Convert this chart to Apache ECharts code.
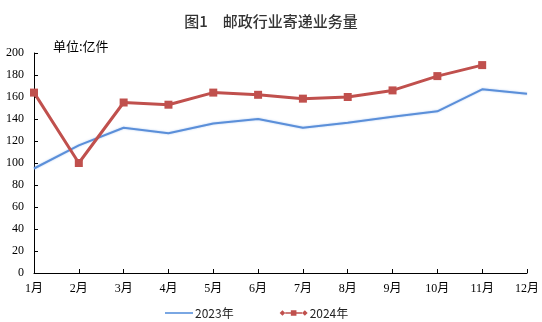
<!DOCTYPE html>
<html><head><meta charset="utf-8">
<script src="https://cdn.jsdelivr.net/npm/echarts@6/dist/echarts.min.js"></script>
<style>html,body{margin:0;padding:0;background:#fff;overflow:hidden}#c{width:542px;height:322px}</style>
</head><body><div id="c"></div>
<script>
const months = ['1月','2月','3月','4月','5月','6月','7月','8月','9月','10月','11月','12月'];
const s2023 = [95, 116, 132, 127, 136, 140, 132, 136.5, 142, 147, 167, 163];
const s2024 = [164, 100, 155, 153, 164, 162, 158.5, 160, 166, 179, 189, null];
const yTicks = {min: 0, max: 200, interval: 20};

const chart = echarts.init(document.getElementById('c'));
const serif = '"Liberation Serif", "Noto Sans CJK SC", serif';
chart.setOption({
  animation: false,
  title: {
    text: '图1　邮政行业寄递业务量', left: 'center', top: 9,
    textStyle: {fontSize: 15, fontWeight: 500, color: '#333', fontFamily: '"Noto Sans CJK SC", sans-serif'}
  },
  graphic: [{
    type: 'text', left: 53, top: 40,
    style: {text: '单位:亿件', fill: '#000', font: '13px "Noto Sans CJK SC", sans-serif'}
  }],
  legend: {
    left: 160, top: 302, itemGap: 46, itemWidth: 28, itemHeight: 8,
    textStyle: {fontSize: 12, color: '#222', fontFamily: '"Noto Sans CJK SC", sans-serif', padding: [0,0,0,-3]},
    data: [
      {name: '2023年', icon: 'path://M0 0L0.01 0Z M0 3L30 3L30 5L0 5Z M30 8L29.99 8Z', itemStyle: {color: '#7aa7e3'}},
      {name: '2024年', icon: 'path://M0 4L3 1L6 4L3 7Z M6 3.2L12 3.2L12 4.8L6 4.8Z M12 1L18 1L18 7L12 7Z M18 3.2L24 3.2L24 4.8L18 4.8Z M24 4L27 1L30 4L27 7Z', itemStyle: {color: '#C0504D'}}
    ]
  },
  grid: {left: 34, right: 11, top: 53, bottom: 49},
  xAxis: {
    type: 'category', data: months, boundaryGap: false,
    axisLine: {lineStyle: {color: '#000', width: 1}},
    axisTick: {inside: true, length: 4, lineStyle: {color: '#000'}},
    axisLabel: {color: '#000', fontSize: 12, margin: 10, fontFamily: serif}
  },
  yAxis: {
    type: 'value', min: yTicks.min, max: yTicks.max, interval: yTicks.interval,
    splitLine: {show: false},
    axisLine: {show: true, lineStyle: {color: '#000', width: 1}},
    axisTick: {show: true, inside: true, length: 4, lineStyle: {color: '#000'}},
    axisLabel: {color: '#000', fontSize: 12, margin: 10, fontFamily: serif}
  },
  series: [
    {name: '2023年', type: 'line', data: s2023, symbol: 'none',
     lineStyle: {color: '#5b8fd9', width: 2, shadowColor: 'rgba(140,180,235,0.7)', shadowBlur: 2},
     itemStyle: {color: '#7aa7e3'}},
    {name: '2024年', type: 'line', data: s2024, symbol: 'rect', symbolSize: 8,
     lineStyle: {color: '#C0504D', width: 3},
     itemStyle: {color: '#C0504D'}}
  ]
});
</script></body></html>
